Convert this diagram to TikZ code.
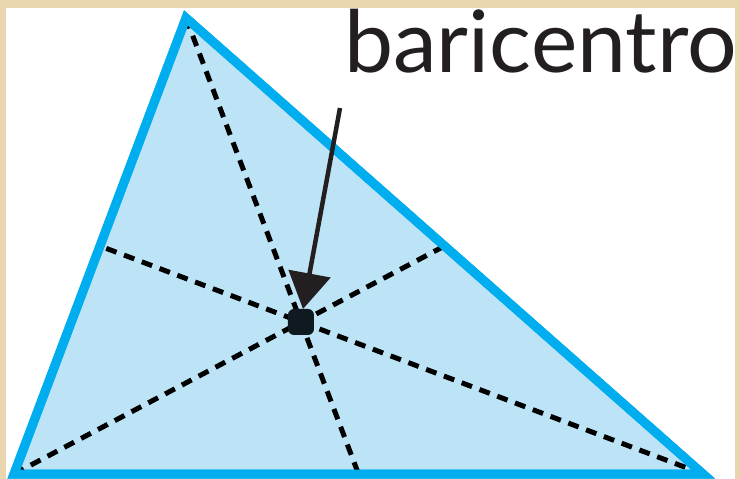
\documentclass[tikz,border=0pt]{standalone}
\usepackage{fontspec}
\setmainfont{Lato}
\usetikzlibrary{arrows.meta,calc}
\definecolor{frame}{HTML}{E9D6AE}
\definecolor{triblue}{HTML}{00AEEF}
\definecolor{trifill}{HTML}{BDE4F6}
\definecolor{inkdark}{HTML}{231F20}
\definecolor{dotdark}{HTML}{0E1A1F}
\tikzset{
  median/.style={draw=black, line width=5pt, dash pattern=on 11pt off 8pt},
  side/.style={draw=triblue, line width=9pt, line join=miter, fill=trifill},
  pointer/.style={draw=inkdark, line width=4.5pt, -{Triangle[length=36pt,width=42pt]}},
}
\begin{document}
\begin{tikzpicture}[x=1pt,y=-1pt]
\useasboundingbox (0,0) rectangle (740,479);
\fill[frame] (0,0) rectangle (740,479);
\fill[white] (6,8) rectangle (735,479);
\begin{scope}
\clip (6,8) rectangle (735,479);
\coordinate (A) at (186,18);
\coordinate (B) at (14,474);
\coordinate (C) at (703,474);
\coordinate (G) at ($1/3*(A)+1/3*(B)+1/3*(C)$);
\coordinate (Ma) at ($(B)!0.5!(C)$);
\coordinate (Mb) at ($(A)!0.5!(C)$);
\coordinate (Mc) at ($(A)!0.5!(B)$);
\path[side] (A) -- (B) -- (C) -- cycle;
\draw[median] (A) -- (Ma);
\draw[median] (B) -- (Mb);
\draw[median] (C) -- (Mc);
\draw[side, fill=none] (A) -- (B) -- (C) -- cycle;
\fill[dotdark, rounded corners=6pt] ($(G)+(-13,-13)$) rectangle ($(G)+(13,13)$);
\end{scope}
\node[anchor=base west, inner sep=0pt, xscale=1.02, font=\fontsize{86}{86}\selectfont, text=inkdark] (lbl) at (344,72) {baricentro};
\coordinate (tail) at (340,108);
\coordinate (tip) at (303,309);
\draw[pointer] (tail) -- (tip);
\end{tikzpicture}
\end{document}
